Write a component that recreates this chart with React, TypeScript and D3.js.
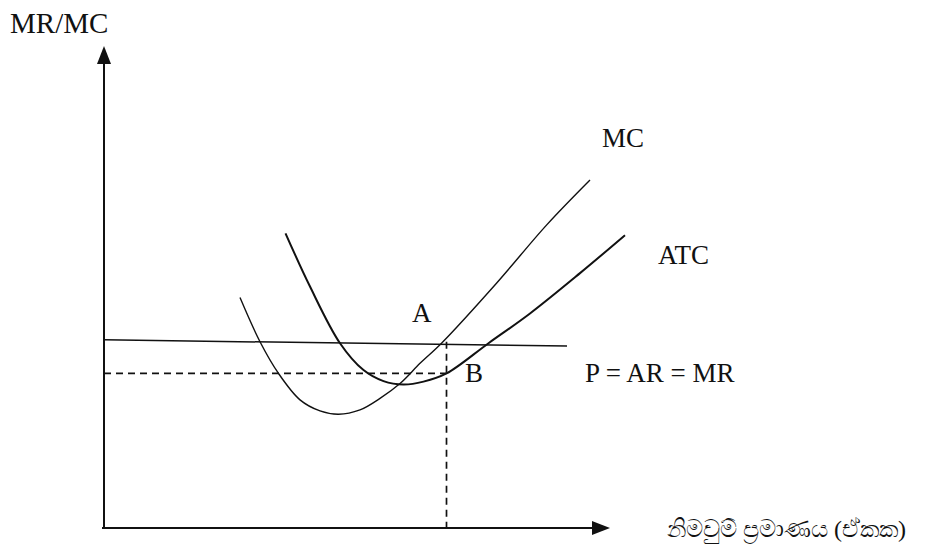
import * as d3 from 'd3'

// curve points (x = output, y = cost / revenue)
const mcPoints: [number, number][] = [
  [2.72, 4.8], [3.12, 3.88], [3.49, 3.22], [3.92, 2.67], [4.32, 2.44],
  [4.69, 2.37], [5.12, 2.46], [5.52, 2.7], [5.92, 3.01], [6.32, 3.43],
  [6.75, 3.85], [7.85, 5.1], [8.85, 6.31], [9.72, 7.25],
]
const atcPoints: [number, number][] = [
  [3.63, 6.14], [4.12, 5.03], [4.72, 3.85], [5.19, 3.29], [5.59, 3.06],
  [5.99, 2.99], [6.39, 3.05], [6.85, 3.22], [7.69, 3.85], [8.52, 4.47],
  [9.52, 5.31], [10.42, 6.1],
]
const priceLine: [number, number][] = [[0, 3.92], [9.26, 3.79]]
const qStar = 6.85
const dashLevel = 3.22

const labels = [
  { text: 'MC', x: 9.96, y: 7.94 },
  { text: 'ATC', x: 11.08, y: 5.5 },
  { text: 'A', x: 6.16, y: 4.29 },
  { text: 'B', x: 7.22, y: 3.04 },
  { text: 'P = AR = MR', x: 9.62, y: 3.04 },
]
const yTitle = 'MR/MC'
const xTitle = 'නිමවුම් ප්‍රමාණය (ඒකක)'

const width = 940
const height = 552
const origin = { x: 104, y: 528 }

export default function App() {
  const x = d3.scaleLinear().domain([0, 10]).range([origin.x, origin.x + 500])
  const y = d3.scaleLinear().domain([0, 10]).range([origin.y, origin.y - 480])

  const curve = d3
    .line<[number, number]>()
    .x((d) => x(d[0]))
    .y((d) => y(d[1]))
    .curve(d3.curveCatmullRom.alpha(0.5))
  const straight = d3
    .line<[number, number]>()
    .x((d) => x(d[0]))
    .y((d) => y(d[1]))

  const axisTop = 60
  const axisRight = 594
  const font = '"Liberation Serif", "DejaVu Serif", serif'

  return (
    <svg
      width={width}
      height={height}
      style={{ position: 'absolute', left: 0, top: 0, background: '#fff' }}
      fontFamily={font}
    >
      {/* axes */}
      <line x1={x(0)} y1={y(0)} x2={x(0)} y2={axisTop} stroke="#111" strokeWidth={2} />
      <path
        d={`M${x(0)},${axisTop - 14} L${x(0) - 7},${axisTop + 4} L${x(0) + 7},${axisTop + 4} Z`}
        fill="#111"
      />
      <line x1={x(0) - 2} y1={y(0)} x2={axisRight} y2={y(0)} stroke="#111" strokeWidth={2.2} />
      <path
        d={`M${axisRight + 16},${y(0)} L${axisRight - 2},${y(0) - 7} L${axisRight - 2},${y(0) + 7} Z`}
        fill="#111"
      />

      {/* price line */}
      <path d={straight(priceLine) ?? ''} fill="none" stroke="#111" strokeWidth={1.5} />

      {/* dashed guides */}
      <path
        d={straight([[0, dashLevel], [qStar, dashLevel]]) ?? ''}
        fill="none"
        stroke="#111"
        strokeWidth={1.7}
        strokeDasharray="7,5"
      />
      <path
        d={straight([[qStar, 3.88], [qStar, 0]]) ?? ''}
        fill="none"
        stroke="#111"
        strokeWidth={1.7}
        strokeDasharray="7,5"
      />

      {/* cost curves */}
      <path d={curve(mcPoints) ?? ''} fill="none" stroke="#111" strokeWidth={1.4} />
      <path d={curve(atcPoints) ?? ''} fill="none" stroke="#111" strokeWidth={2} />

      {labels.map((l) => (
        <text key={l.text} x={x(l.x)} y={y(l.y)} fontSize={27} fill="#111">
          {l.text}
        </text>
      ))}

      <text x={10} y={33} fontSize={29} fill="#111">
        {yTitle}
      </text>
      <text x={667} y={537} fontSize={24} fill="#111">
        {xTitle}
      </text>
    </svg>
  )
}
